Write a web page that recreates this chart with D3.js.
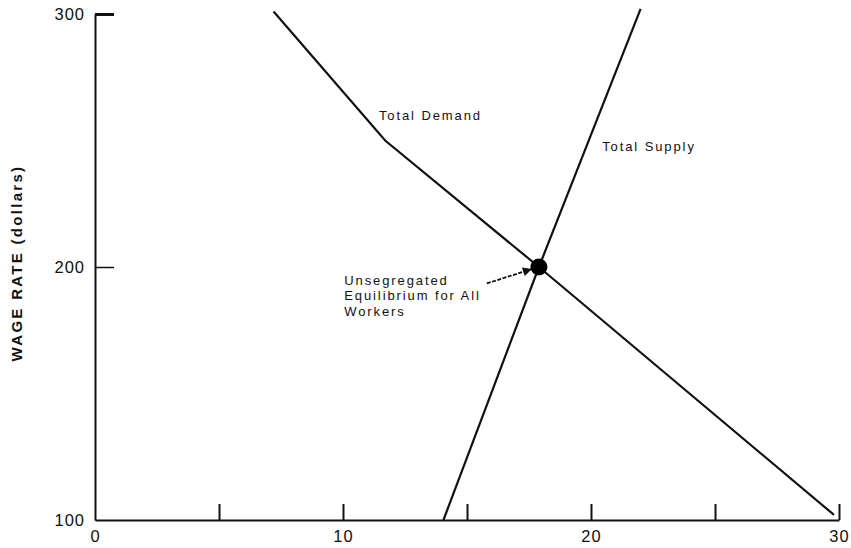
<!DOCTYPE html>
<html>
<head>
<meta charset="utf-8">
<script src="https://cdn.jsdelivr.net/npm/d3@7"></script>
<style>
    body { margin: 0; background: #fff; }
    svg { display: block; font-family: "Liberation Sans", Arial, sans-serif; }
    .axis path, .axis line { stroke: #111; }
    .axis text { fill: #111; font-size: 16.5px; letter-spacing: 1px; }
    .note { fill: #111; font-size: 13px; letter-spacing: 1.9px; }
</style>
</head>
<body>
<div id="chart"></div>
<script>
// data (quantity of workers, wage in dollars)
var demand = [[7.2, 301], [11.7, 250], [17.9, 200], [29.8, 102]];
var supply = [[14.05, 100], [17.9, 200], [22.0, 302]];
var equilibrium = [17.9, 200];
var arrowFrom = [15.8, 193.5];
var xTicks = [5, 10, 15, 20, 25, 30];
var xLabels = [0, 10, 20, 30];
var yTicks = [200, 300];
var yLabels = [100, 200, 300];
var notes = [
    {text: ["Total Demand"], at: [11.45, 258]},
    {text: ["Total Supply"], at: [20.45, 246]},
    {text: ["Unsegregated", "Equilibrium for All", "Workers"], at: [10.05, 193]}
];

var width = 851,
    height = 548,
    margin = {top: 14, right: 12, bottom: 28, left: 95};
var innerW = width - margin.left - margin.right,
    innerH = height - margin.top - margin.bottom;

var svg = d3.select("#chart")
    .append("svg")
    .attr("width", width)
    .attr("height", height);

var g = svg.append("g")
    .attr("transform", `translate(${margin.left},${margin.top})`);

var x = d3.scaleLinear().domain([0, 30]).range([0, innerW]);
var y = d3.scaleLinear().domain([100, 300]).range([innerH, 0]);

// x axis: ticks inward, labels only every 10
g.append("g")
    .attr("class", "x axis")
    .attr("transform", `translate(0,${innerH})`)
    .call(d3.axisBottom(x).tickValues(xTicks).tickSize(-16).tickSizeOuter(0).tickFormat(""))
    .call(a => a.select(".domain").attr("stroke-width", 2))
    .call(a => a.selectAll(".tick line").attr("stroke-width", 2));

g.append("g")
    .attr("class", "x axis labels")
    .attr("transform", `translate(0,${innerH})`)
    .call(d3.axisBottom(x).tickValues(xLabels).tickSize(0).tickPadding(10))
    .call(a => a.select(".domain").remove());

// y axis
g.append("g")
    .attr("class", "y axis")
    .call(d3.axisLeft(y).tickValues(yTicks).tickSize(-19).tickSizeOuter(0).tickFormat(""))
    .call(a => a.select(".domain").attr("stroke-width", 2))
    .call(a => a.selectAll(".tick line").attr("stroke-width", d => d == 300 ? 3 : 1.5));

g.append("g")
    .attr("class", "y axis labels")
    .call(d3.axisLeft(y).tickValues(yLabels).tickSize(0).tickPadding(10))
    .call(a => a.select(".domain").remove());

// y axis title
svg.append("text")
    .attr("transform", `translate(22,${margin.top + y(200) - 4}) rotate(-90)`)
    .attr("text-anchor", "middle")
    .style("font-size", "15px")
    .style("font-weight", "bold")
    .style("letter-spacing", "2.3px")
    .attr("fill", "#111")
    .text("WAGE RATE (dollars)");

var line = d3.line().x(d => x(d[0])).y(d => y(d[1]));

g.append("path")
    .datum(demand)
    .attr("d", line)
    .attr("fill", "none")
    .attr("stroke", "#111")
    .attr("stroke-width", 2.2);

g.append("path")
    .datum(supply)
    .attr("d", line)
    .attr("fill", "none")
    .attr("stroke", "#111")
    .attr("stroke-width", 2.2);

// arrow pointing at the equilibrium
svg.append("defs").append("marker")
    .attr("id", "head")
    .attr("viewBox", "0 0 10 10")
    .attr("refX", 10).attr("refY", 5)
    .attr("markerWidth", 7).attr("markerHeight", 5)
    .attr("orient", "auto")
    .append("path")
    .attr("d", "M0,0L10,5L0,10z")
    .attr("fill", "#111");

g.append("line")
    .attr("x1", x(arrowFrom[0])).attr("y1", y(arrowFrom[1]))
    .attr("x2", x(equilibrium[0]) - 7).attr("y2", y(equilibrium[1]) + 2)
    .attr("stroke", "#111")
    .attr("stroke-width", 1.8)
    .attr("stroke-dasharray", "4,1.5")
    .attr("marker-end", "url(#head)");

g.append("circle")
    .attr("cx", x(equilibrium[0]))
    .attr("cy", y(equilibrium[1]))
    .attr("r", 8.5)
    .attr("fill", "#000");

notes.forEach(n => {
    var t = g.append("text")
        .attr("class", "note")
        .attr("x", x(n.at[0]))
        .attr("y", y(n.at[1]));
    n.text.forEach((s, i) => {
        t.append("tspan")
            .attr("x", x(n.at[0]))
            .attr("dy", i == 0 ? 0 : 15.5)
            .text(s);
    });
});
</script>
</body>
</html>
